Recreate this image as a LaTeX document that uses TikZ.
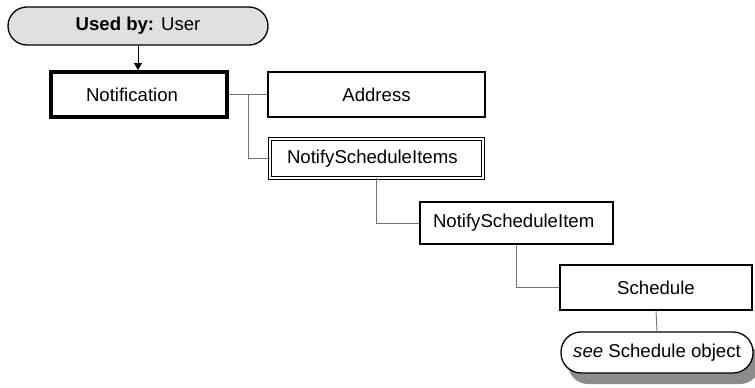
\documentclass[tikz,border=0pt]{standalone}
\usepackage{fontspec}
\setmainfont{Liberation Sans}
\usetikzlibrary{arrows.meta,shadows,calc}
\begin{document}
\begin{tikzpicture}[x=1pt,y=-1pt,
  font=\fontsize{18.6}{22}\selectfont,
  box/.style={draw=black,line width=1.3pt,fill=white,inner sep=0pt},
  pill/.style={draw=black,line width=1.3pt,inner sep=0pt},
  link/.style={draw=black!55,line width=0.9pt},
]
\useasboundingbox (0,0) rectangle (755,388);

% "used by" header
\node[pill,fill={rgb,255:red,224;green,224;blue,224},rounded corners=19pt,
      minimum width=260pt,minimum height=38pt] (usedby) at (138,26)
      {\textbf{Used by:} User};

% object boxes
\node[box,line width=4pt,minimum width=176pt,minimum height=45pt,text width=106pt,align=left] (notif) at (139,94.5) {Notification};
\node[box,minimum width=217pt,minimum height=45pt] (address) at (376.5,94.5) {Address};
\node[box,line width=1.2pt,double=white,double distance=2pt,
      minimum width=212.6pt,minimum height=38.6pt,text width=179pt,align=left] (nsi) at (376.5,158.5)
      {NotifyScheduleItems};
\node[box,minimum width=193pt,minimum height=42pt,text width=167pt,align=left] (nsitem) at (516.5,223)
      {NotifyScheduleItem};
\node[box,minimum width=192pt,minimum height=45pt] (schedule) at (656,287.5) {Schedule};

% reference to another object
\node[pill,fill=white,rounded corners=20pt,minimum width=192pt,minimum height=41pt,
      drop shadow={shadow xshift=7pt,shadow yshift=-11pt,fill=black!45,opacity=1}] (see) at (657,352.5)
      {\textit{see} Schedule object};

% connectors
\draw[black,line width=0.9pt,-{Triangle[width=8pt,length=7pt]}] (usedby.south) -- (usedby.south |- notif.north);
\draw[link] (notif.east) -- (address.west);
\draw[link] ($(notif.east)!0.5!(address.west)$) |- (nsi.west);
\draw[link] (nsi.south) |- (nsitem.west);
\draw[link] (nsitem.south) |- (schedule.west);
\draw[link] (schedule.south) -- (see.north);
\end{tikzpicture}
\end{document}
